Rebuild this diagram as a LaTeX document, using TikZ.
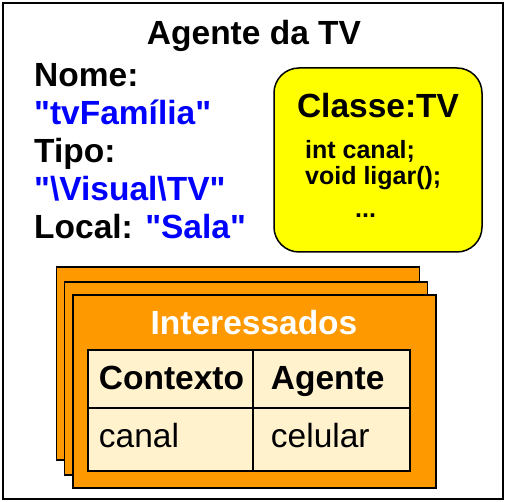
\documentclass[tikz,border=0pt]{standalone}
\usepackage{fontspec}
\setmainfont{Liberation Sans}[Ligatures=TeXOff]
\usetikzlibrary{matrix}
\definecolor{laranja}{RGB}{255, 153, 0}
\definecolor{creme}{RGB}{255, 242, 204}
\definecolor{amarelo}{RGB}{255, 255, 0}
\definecolor{azul}{RGB}{0, 0, 255}

\begin{document}
\begin{tikzpicture}[
    x=1pt, y=-1pt,
    grande/.style={font=\fontsize{33.5}{38}\selectfont\bfseries, inner sep=0pt},
    campo/.style={grande, anchor=base west},
    valor/.style={campo, text=azul},
    codigo/.style={font=\fontsize{25}{29}\selectfont\bfseries,
                   inner sep=0pt, anchor=base west},
    folha/.style={draw, line width=1.5pt, fill=laranja, inner sep=0pt,
                  minimum width=363pt, minimum height=193pt},
    tabela/.style={
        matrix of nodes,
        inner sep=0pt,
        nodes={draw, line width=1.5pt, fill=creme, align=left,
               inner ysep=0pt, text height=40pt},
        column sep=-1.5pt,
        row sep=-1.5pt,
        column 1/.style={nodes={text width=143pt, inner xsep=11pt}},
        column 2/.style={nodes={text width=121pt, inner xsep=18pt}},
        row 1/.style={nodes={text depth=18pt,
                      font=\fontsize{33.5}{38}\selectfont\bfseries}},
        row 2/.style={nodes={text depth=23pt,
                      font=\fontsize{33.5}{38}\selectfont}}
    }
]
\useasboundingbox (0,0) rectangle (507,502);

% --- Moldura do agente ---
\node[draw, line width=2pt, minimum width=500pt, minimum height=496pt,
      inner sep=0pt] (agente) at (253,251) {};
\node[grande, anchor=base] (titulo) at (254,45) {Agente da TV};

% ============================================================
%  ATRIBUTOS (nome, tipo, local)
% ============================================================
\node[campo] (nome) at (34,87) {Nome:};
\node[valor] (nomeval) at (34,125) {"tvFamília"};
\node[campo] (tipo) at (34,163) {Tipo:};
\node[valor] (tipoval) at (34,201) {"\textbackslash Visual\textbackslash TV"};
\node[campo] (local) at (34,239) {Local: \textcolor{azul}{"Sala"}};

% ============================================================
%  CLASSE (caixa amarela)
% ============================================================
\node[draw, line width=1.5pt, fill=amarelo, rounded corners=25pt,
      minimum width=208pt, minimum height=184pt] (classe) at (378,160) {};
\node[grande, anchor=base] (classenome) at (378,118) {Classe:TV};
\node[codigo] (canal) at (305,159) {int canal;};
\node[codigo] (ligar) at (305,185) {void ligar();};
\node[codigo] (resto) at (355,218) {...};

% ============================================================
%  INTERESSADOS (folhas empilhadas + tabela)
% ============================================================
\node[folha] (folha3) at (238,363.5) {};
\node[folha] (folha2) at (246,378.5) {};
\node[folha] (folha1) at (254.5,391.5) {};
\node[grande, text=white, anchor=base] (interessados) at (254,335) {Interessados};

\matrix[tabela, anchor=north west] (tab) at (87,349) {
    Contexto & Agente \\
    canal    & celular \\
};

\end{tikzpicture}
\end{document}
